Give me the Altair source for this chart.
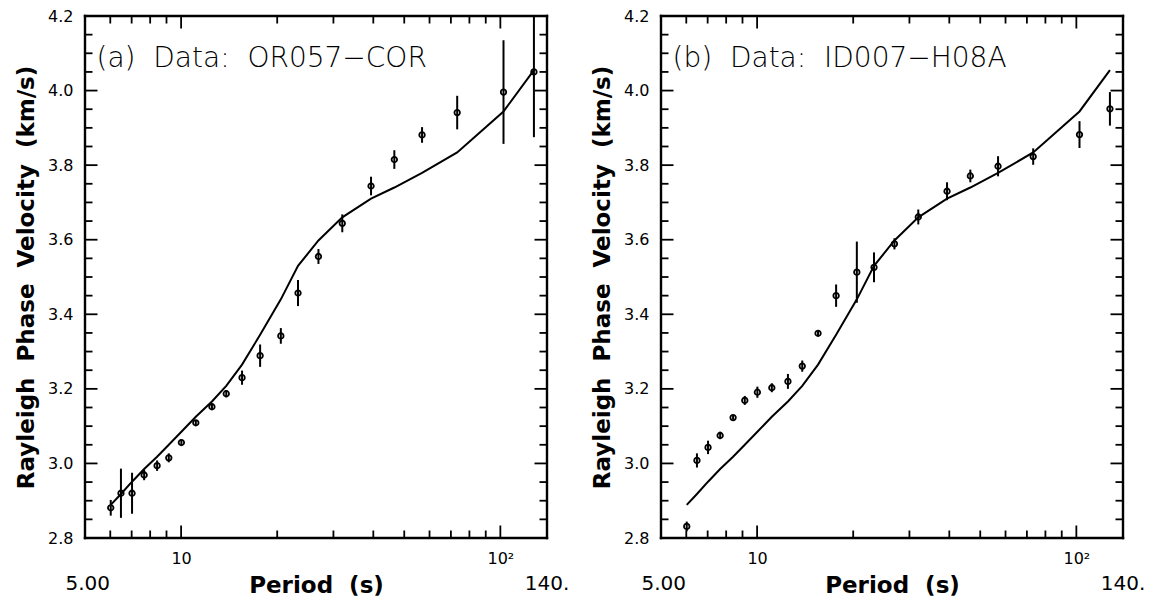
import altair as alt
import pandas as pd

# ---- data ----
periods = [6.02, 6.48, 7.02, 7.66, 8.41, 9.15, 10.02, 11.12, 12.49, 13.85, 15.52,
           17.68, 20.53, 23.24, 26.93, 31.98, 39.35, 46.55, 56.85, 73.25, 102.3, 127.4]

vel_a = [2.881, 2.920, 2.920, 2.969, 2.994, 3.015, 3.056, 3.109, 3.152, 3.187, 3.230,
         3.289, 3.342, 3.457, 3.555, 3.644, 3.744, 3.815, 3.881, 3.941, 3.996, 4.050]
err_a = [0.021, 0.066, 0.055, 0.014, 0.014, 0.012, 0.008, 0.006, 0.006, 0.010, 0.019,
         0.030, 0.021, 0.035, 0.020, 0.024, 0.025, 0.025, 0.021, 0.045, 0.139, 0.175]

vel_b = [2.831, 3.008, 3.043, 3.075, 3.123, 3.169, 3.191, 3.203, 3.220, 3.261, 3.349,
         3.450, 3.513, 3.526, 3.589, 3.661, 3.730, 3.771, 3.797, 3.823, 3.882, 3.951]
err_b = [0.013, 0.019, 0.018, 0.010, 0.006, 0.012, 0.015, 0.012, 0.020, 0.015, 0.008,
         0.030, 0.082, 0.040, 0.015, 0.020, 0.024, 0.017, 0.027, 0.022, 0.036, 0.045]

model_periods = periods
model_vel = [2.889, 2.918, 2.951, 2.985, 3.018, 3.050, 3.085, 3.125, 3.166, 3.208, 3.265,
             3.345, 3.440, 3.530, 3.598, 3.660, 3.710, 3.740, 3.779, 3.834, 3.944, 4.055]

SP = "\u00a0\u00a0"
panel_labels = ["(a)" + SP + "Data:" + SP + "OR057\u2212COR",
                "(b)" + SP + "Data:" + SP + "ID007\u2212H08A"]
x_title = "Period" + SP + "(s)"
y_title = "Rayleigh" + SP + "Phase" + SP + "Velocity" + SP + "(km/s)"
x_domain = [5, 140]
y_domain = [2.8, 4.2]
x_ends = [5.1, 140.0]
x_end_labels = ["5.00", "140."]
x_major = [10, 100]
x_minor = [6, 7, 8, 9, 20, 30, 40, 50, 60, 70, 80, 90]
y_major = [2.8, 3.0, 3.2, 3.4, 3.6, 3.8, 4.0, 4.2]
y_minor = [2.85, 2.9, 2.95, 3.05, 3.1, 3.15, 3.25, 3.3, 3.35, 3.45, 3.5, 3.55,
           3.65, 3.7, 3.75, 3.85, 3.9, 3.95, 4.05, 4.1, 4.15]

W, H = 462, 522
FONT = "DejaVu Sans"
MAJ, MIN = 12.5, 7.5

xscale = alt.Scale(type="log", domain=x_domain, nice=False)
yscale = alt.Scale(domain=y_domain, nice=False, zero=False)

x_axis = alt.Axis(values=x_major, labelExpr="datum.value == 10 ? '10' : '10\u00b2'",
                  ticks=False, domain=False, grid=False, labelFont=FONT, labelFontSize=16,
                  labelColor="black", labelPadding=12,
                  title=x_title, titleFont=FONT, titleFontSize=23, titleFontWeight="bold",
                  titleColor="black", titleY=47, titleBaseline="middle")
y_axis = alt.Axis(values=y_major, format=".1f", ticks=False, domain=False, grid=False,
                  labelFont=FONT, labelFontSize=16, labelColor="black", labelPadding=12,
                  title=y_title, titleFont=FONT, titleFontSize=23,
                  titleFontWeight="bold", titleColor="black", titleX=-59, titleY=H / 2,
                  titleAngle=270, titleAlign="center", titleBaseline="middle")


def xenc(field):
    return alt.X(field, type="quantitative", scale=xscale, axis=x_axis)


def yenc(field):
    return alt.Y(field, type="quantitative", scale=yscale, axis=y_axis)


ymaj_df = pd.DataFrame({"v": y_major})
ymin_df = pd.DataFrame({"v": y_minor})
xmaj_df = pd.DataFrame({"p": x_major})
xmin_df = pd.DataFrame({"p": x_minor})
xdom_df = pd.DataFrame({"p": x_domain})
ydom_df = pd.DataFrame({"v": y_domain})
ends_df = pd.DataFrame({"p": x_ends, "t": x_end_labels})
model_df = pd.DataFrame({"p": model_periods, "v": model_vel})


def panel(vel, err, label):
    df = pd.DataFrame({"p": periods, "v": vel, "e": err})
    df["lo"] = df["v"] - df["e"]
    df["hi"] = df["v"] + df["e"]

    layers = []
    tk = dict(color="black", strokeWidth=1.8)
    for d, L in ((ymaj_df, MAJ), (ymin_df, MIN)):
        layers.append(alt.Chart(d).mark_rule(**tk).encode(
            y=yenc("v"), x=alt.value(0), x2=alt.value(L)))
        layers.append(alt.Chart(d).mark_rule(**tk).encode(
            y=yenc("v"), x=alt.value(W), x2=alt.value(W - L)))
    for d, L in ((xmaj_df, MAJ), (xmin_df, MIN)):
        layers.append(alt.Chart(d).mark_rule(**tk).encode(
            x=xenc("p"), y=alt.value(H), y2=alt.value(H - L)))
        layers.append(alt.Chart(d).mark_rule(**tk).encode(
            x=xenc("p"), y=alt.value(0), y2=alt.value(L)))

    # frame (drawn at domain ends through the scales)
    fr = dict(color="black", strokeWidth=2.4, strokeCap="square")
    layers.append(alt.Chart(xdom_df).mark_rule(**fr).encode(
        x=xenc("p"), y=alt.value(0), y2=alt.value(H)))
    layers.append(alt.Chart(ydom_df).mark_rule(**fr).encode(
        y=yenc("v"), x=alt.value(0), x2=alt.value(W)))

    layers.append(alt.Chart(model_df).mark_line(color="black", strokeWidth=2).encode(
        x=xenc("p"), y=yenc("v")))
    layers.append(alt.Chart(df).mark_rule(color="black", strokeWidth=2, clip=True).encode(
        x=xenc("p"), y=yenc("lo"), y2="hi"))
    layers.append(alt.Chart(df).mark_point(shape="circle", filled=False, color="black",
                                           size=30, strokeWidth=1.8, opacity=1).encode(
        x=xenc("p"), y=yenc("v")))
    layers.append(alt.Chart(ends_df).mark_text(font=FONT, fontSize=20, color="black",
                                               align="center", baseline="middle").encode(
        x=xenc("p"), y=alt.value(H + 46), text="t:N"))
    layers.append(alt.Chart(pd.DataFrame({"t": [label]})).mark_text(
        font=FONT, fontSize=28, fontWeight=200, color="black", align="left",
        baseline="alphabetic").encode(x=alt.value(11.5), y=alt.value(51), text="t:N"))
    return alt.layer(*layers).properties(width=W, height=H)


chart = alt.hconcat(panel(vel_a, err_a, panel_labels[0]),
                    panel(vel_b, err_b, panel_labels[1]),
                    spacing=20).properties(
    padding={"left": 6, "top": 0, "right": 0, "bottom": 0}
).configure(background="white").configure_view(stroke=None)

chart.save("out.html", embed_options={"renderer": "svg", "actions": False})
